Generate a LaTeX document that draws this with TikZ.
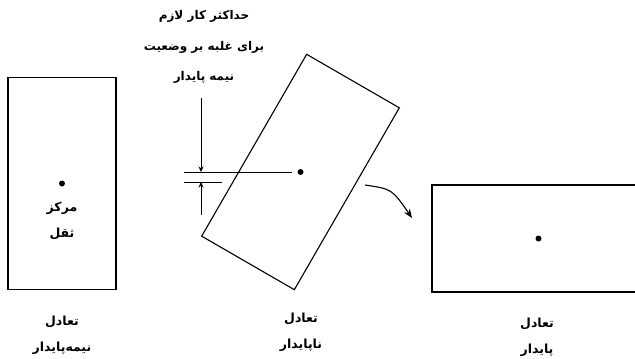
\documentclass[tikz,border=0pt]{standalone}
\usepackage{fontspec}
\newfontfamily\arabicfont[Script=Arabic]{DejaVu Sans}
\TeXXeTstate=1
\usepackage{tikz}
\usetikzlibrary{arrows.meta,positioning,calc}
\newcommand{\fatext}[1]{\beginR #1\endR}
\tikzset{
  blk/.style={
    draw=black, line width=1.1pt, inner sep=0pt,
    minimum width=108pt, minimum height=212pt
  },
  cg/.style={circle, fill=black, inner sep=0pt, minimum size=6pt},
  lbl/.style={
    font=\arabicfont\bfseries\fontsize{12.5}{26}\selectfont,
    align=center, inner sep=1pt
  },
  ttl/.style={lbl, font=\arabicfont\bfseries\fontsize{12}{30.5}\selectfont},
  arr/.style={-{Stealth[length=5.5pt,width=5pt]}, draw=black, line width=0.9pt},
  carr/.style={-{Stealth[length=9pt,width=7pt]}, draw=black, line width=1.1pt},
  ln/.style={draw=black, line width=1pt}
}
\begin{document}
\begin{tikzpicture}[x=1pt, y=-1pt]
  \clip (0,0) rectangle (635,359);

  % nimeh-paydar (left)
  \node[blk] (b1) at (62,183.5) {};
  \node[cg] (c1) at (b1.center) {};
  \node[lbl] (m1) at (62,221) {\fatext{مرکز}\\\fatext{ثقل}};
  \node[lbl] (l1) at (62,335) {\fatext{تعادل}\\\fatext{نیمه‌پایدار}};

  % na-paydar (middle)
  \node[blk, minimum width=107pt, minimum height=210pt, rotate=-30] (b2) at (300.5,172) {};
  \node[cg] (c2) at (b2.center) {};
  \node[lbl] (l2) at (301,332) {\fatext{تعادل}\\\fatext{ناپایدار}};
  \node[ttl] (t2) at (204,47) {\fatext{حداکثر کار لازم}\\\fatext{برای غلبه بر وضعیت}\\\fatext{نیمه پایدار}};

  \coordinate (h1) at (184,172);
  \coordinate (h2) at (292,172);
  \coordinate (h3) at (184,182);
  \coordinate (h4) at (222,182);
  \coordinate (a1) at (201,98);
  \coordinate (a2) at (201,172);
  \coordinate (a3) at (201,215);
  \coordinate (a4) at (201,182);
  \draw[ln] (h1) -- (h2);
  \draw[ln] (h3) -- (h4);
  \draw[arr] (a1) -- (a2);
  \draw[arr] (a3) -- (a4);

  % paydar (right)
  \node[blk, minimum width=213pt, minimum height=107pt] (b3) at (538.5,238.5) {};
  \node[cg] (c3) at (b3.center) {};
  \node[lbl] (l3) at (537,337) {\fatext{تعادل}\\\fatext{پایدار}};

  \coordinate (k1) at (365,185);
  \coordinate (k2) at (412,218);
  \draw[carr] (k1) .. controls (392,189) .. (k2);
\end{tikzpicture}
\end{document}
